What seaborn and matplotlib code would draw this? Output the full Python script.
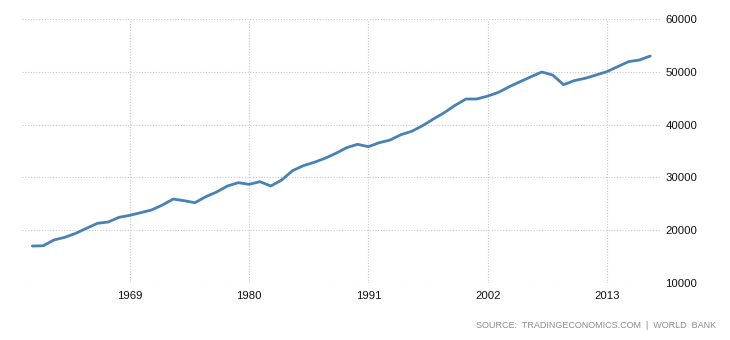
import matplotlib
matplotlib.use("Agg")
import matplotlib.pyplot as plt
import seaborn as sns
import pandas as pd

years = list(range(1960, 2018))
values = [17000, 17050, 18150, 18650, 19400, 20360, 21300, 21550, 22440, 22820,
          23320, 23830, 24770, 25900, 25590, 25210, 26340, 27230, 28370, 29000,
          28690, 29190, 28370, 29500, 31270, 32220, 32860, 33620, 34560, 35630,
          36270, 35820, 36570, 37080, 38090, 38730, 39800, 41060, 42260, 43650,
          44850, 44850, 45400, 46110, 47180, 48130, 49070, 49960, 49390, 47560,
          48330, 48770, 49390, 50030, 50980, 51920, 52230, 52990]
x_ticks = [1969, 1980, 1991, 2002, 2013]
y_ticks = [10000, 20000, 30000, 40000, 50000, 60000]
source_text = "SOURCE:  TRADINGECONOMICS.COM  |  WORLD  BANK"

sns.set_style("white")
plt.rcParams['font.family'] = ['Liberation Sans', 'DejaVu Sans']

df = pd.DataFrame({"year": years, "value": values})

fig = plt.figure(figsize=(7.3, 3.4), dpi=100)
ax = fig.add_axes([22/730, 1 - 283/340, (660 - 22)/730, (283 - 19)/340])

sns.lineplot(data=df, x="year", y="value", ax=ax, color="#4682B4", linewidth=2.0,
             solid_joinstyle="round", solid_capstyle="round")

ax.set_xlim(1959.05, 2017.9)
ax.set_ylim(10000, 60000)
ax.set_xticks(x_ticks)
ax.set_xticklabels([str(t) for t in x_ticks])
ax.set_yticks(y_ticks)
ax.set_yticklabels([str(t) for t in y_ticks])
ax.yaxis.tick_right()
ax.set_xlabel("")
ax.set_ylabel("")
for s in ax.spines.values():
    s.set_visible(False)
ax.grid(True, color="#c8c8c8", linestyle=(0, (1, 1.5)), linewidth=0.8)
ax.set_axisbelow(True)
ax.tick_params(axis="both", length=0, labelsize=8.2, colors="#111111")
ax.tick_params(axis="y", pad=4)
ax.tick_params(axis="x", pad=6)

fig.text(476/730, 1 - 325/340, source_text, fontsize=6.5, color="#8a8a8a",
         ha="left", va="center")

fig.savefig("out.png", dpi=100)
